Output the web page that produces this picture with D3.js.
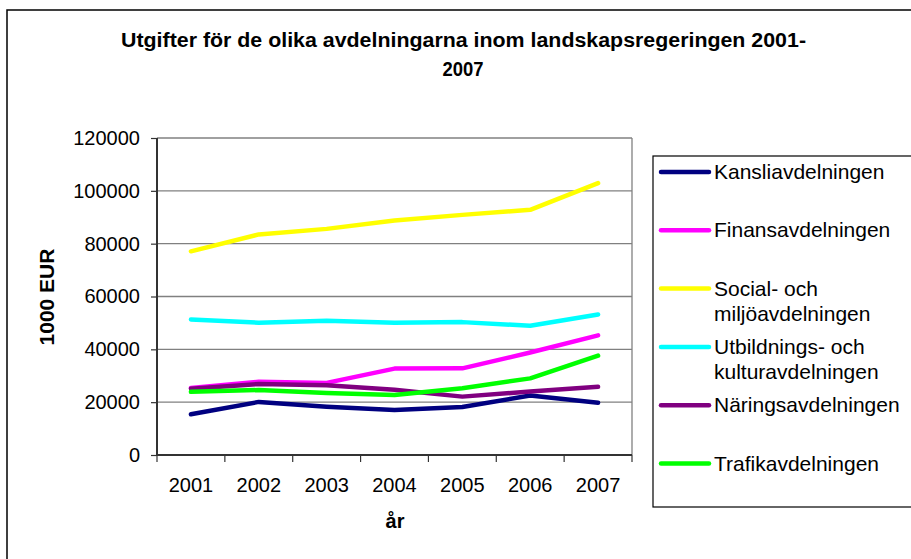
<!DOCTYPE html>
<html><head><meta charset="utf-8">
<script src="https://cdn.jsdelivr.net/npm/d3@7"></script>
<style>body{margin:0;background:#fff}svg{display:block;font-family:"Liberation Sans",Arial,sans-serif}</style>
</head><body>
<script>
const years = ["2001","2002","2003","2004","2005","2006","2007"];
const seriesNames = ["Kansliavdelningen","Finansavdelningen","Social- och miljöavdelningen","Utbildnings- och kulturavdelningen","Näringsavdelningen","Trafikavdelningen"];
const legendLabels = [["Kansliavdelningen"],["Finansavdelningen"],["Social- och","miljöavdelningen"],["Utbildnings- och","kulturavdelningen"],["Näringsavdelningen"],["Trafikavdelningen"]];
const kansli = [15400,20100,18300,17000,18200,22500,19800];
const finans = [25400,27700,27300,32700,32800,38800,45300];
const social = [77100,83500,85600,88800,90900,92800,102900];
const utbildning = [51300,50100,50800,50100,50300,48900,53200];
const naring = [25100,26900,26400,24700,22100,24000,25800];
const trafik = [23900,24600,23500,22700,25300,29000,37600];
const seriesValues = [kansli,finans,social,utbildning,naring,trafik];
const colors = ["#000080","#FF00FF","#FFFF00","#00FFFF","#800080","#00FF00"];
const yTicks = [0,20000,40000,60000,80000,100000,120000];

const W=911,H=559;
const svg=d3.select("body").append("svg").attr("width",W).attr("height",H);
svg.append("rect").attr("x",7).attr("y",10).attr("width",W+20).attr("height",H+20)
  .attr("fill","#fff").attr("stroke","#000").attr("stroke-width",1.5);

const L=157,R=632,T=138,B=455;
const x=d3.scaleBand().domain(years).range([L,R]);
const y=d3.scaleLinear().domain([0,120000]).range([B,T]);

// title
const title=svg.append("text").attr("text-anchor","middle").attr("font-weight","bold").attr("font-size",19.5).attr("fill","#000");
title.append("tspan").attr("x",463.5).attr("y",47).attr("textLength",685).attr("lengthAdjust","spacingAndGlyphs")
  .text("Utgifter för de olika avdelningarna inom landskapsregeringen 2001-");
title.append("tspan").attr("x",463).attr("y",76).attr("textLength",41).attr("lengthAdjust","spacingAndGlyphs").text("2007");

// gridlines
svg.append("g").selectAll("line").data(yTicks.filter(d=>d>0)).join("line")
  .attr("x1",L).attr("x2",R).attr("y1",d=>y(d)).attr("y2",d=>y(d))
  .attr("stroke","#808080").attr("stroke-width",1.3);
// right border
svg.append("line").attr("x1",R).attr("x2",R).attr("y1",T).attr("y2",B).attr("stroke","#808080").attr("stroke-width",1.3);

// axes
const yAxis=svg.append("g").attr("transform",`translate(${L},0)`)
  .call(d3.axisLeft(y).tickValues(yTicks).tickSize(6).tickPadding(11).tickFormat(d3.format("d")));
const xAxis=svg.append("g").attr("transform",`translate(0,${B})`)
  .call(d3.axisBottom(x).tickSize(0).tickPadding(23));
// x ticks at band boundaries
const bounds=years.map(d=>x(d)).concat([R]);
svg.append("g").selectAll("line").data(bounds).join("line")
  .attr("x1",d=>d).attr("x2",d=>d).attr("y1",B).attr("y2",B+7).attr("stroke","#333").attr("stroke-width",1.2);
[yAxis,xAxis].forEach(g=>{
  g.selectAll(".domain").attr("stroke","#333").attr("stroke-width",2);
  g.selectAll(".tick line").attr("stroke","#333").attr("stroke-width",1.2);
  g.selectAll("text").attr("font-size",20).attr("fill","#000").attr("font-family","Liberation Sans, Arial, sans-serif");
});
yAxis.select(".domain").attr("d",`M0,${B}V${T}`);
xAxis.select(".domain").attr("d",`M${L},0H${R}`);

// axis titles
svg.append("text").attr("transform","translate(54,297) rotate(-90)").attr("text-anchor","middle")
  .attr("font-weight","bold").attr("font-size",21).text("1000 EUR");
svg.append("text").attr("x",395).attr("y",528).attr("text-anchor","middle")
  .attr("font-weight","bold").attr("font-size",20).text("år");

// lines
const line=d3.line().x((d,i)=>x(years[i])+x.bandwidth()/2).y(d=>y(d));
svg.append("g").selectAll("path").data(seriesValues).join("path")
  .attr("d",d=>line(d)).attr("fill","none").attr("stroke",(d,i)=>colors[i])
  .attr("stroke-width",4.5).attr("stroke-linejoin","round").attr("stroke-linecap","round");

// legend
svg.append("rect").attr("x",653).attr("y",156).attr("width",300).attr("height",351)
  .attr("fill","#fff").attr("stroke","#000").attr("stroke-width",1.2);
const lg=svg.append("g").selectAll("g").data(seriesNames).join("g")
  .attr("transform",(d,i)=>`translate(0,${172+i*58.3})`);
lg.append("line").attr("x1",661).attr("x2",709).attr("y1",0).attr("y2",0)
  .attr("stroke",(d,i)=>colors[i]).attr("stroke-width",4.5).attr("stroke-linecap","round");
lg.append("text").attr("font-size",21).attr("fill","#000").each(function(d,i){
  const t=d3.select(this);
  legendLabels[i].forEach((s,j)=>t.append("tspan").attr("x",714).attr("y",7+j*25).text(s));
});
</script>
</body></html>
